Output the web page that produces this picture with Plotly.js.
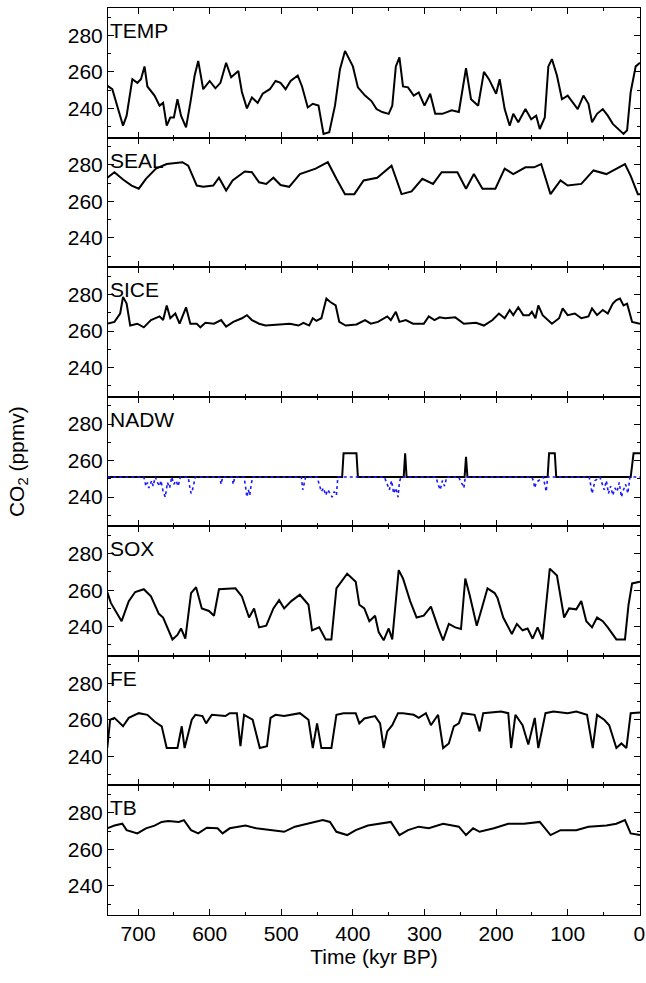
<!DOCTYPE html>
<html>
<head>
<meta charset="utf-8">
<script src="https://cdn.plot.ly/plotly-3.0.1.min.js"></script>
<style>body{margin:0;background:#fff}</style>
</head>
<body>
<div id="plot" style="width:646px;height:983px"></div>
<script>
// === Data (time in kyr BP, CO2 in ppmv) === //
var panelNames = ['TEMP','SEAL','SICE','NADW','SOX','FE','TB'];

var tempT = [743,736,721,716,708,701,696,691,687,677,670,665,660,655,650,645,640,633,627,621,616,609,600,592,585,577,570,560,555,548,541,533,526,516,508,501,494,487,477,471,463,456,448,441,433,425,418,411,400,393,383,374,367,359,350,345,340,335,330,323,315,308,300,292,285,275,262,252,242,235,225,217,210,200,195,188,181,176,169,159,151,144,139,132,127,122,115,108,100,93,86,78,71,66,59,51,44,37,27,22,17,12,5,-1];
var tempV = [252.4,250.5,230.5,236,256,254,256,263,252,247,241.5,243,230.5,235,235,245,236,229.6,243,258,266,250.5,255,251,254,265,257,260.5,249,240,246,243,248,250.5,255,254,250.5,255,258,252,240.5,242.5,241.5,226,227,241.5,261.5,271.5,263,251.5,247,244,239.6,238,237,241.5,263,268,252,251.5,247,248.7,241.5,248,237,237,239,238,262,245,241.5,260,256,248,256,239.6,230.5,237,232.4,239.6,234,236,228.7,235,263,267,258,245,247,243,239.6,247,242.5,232.4,237,239.6,236,231.5,228,226,228,249,263,265];

var sealT = [743,733,721,709,699,689,675,660,638,630,618,609,595,587,577,568,551,541,531,521,511,501,489,474,452,435,423,411,398,385,366,346,332,318,303,288,276,254,242,231,219,201,188,176,159,147,137,124,110,100,81,64,46,20,12,2,-1];
var sealV = [273,276,272,268.7,267,272.4,278,280.5,281.5,279.6,268.7,268,268.7,273,266,271.5,276.4,276,270.5,269.6,273,269,268,275,278,281.5,272.4,264,264,271.5,273,279.6,264,265.5,272.4,269.6,276,276,267,275,267,267,278,275,278.7,278.7,280.5,264,271.5,268.7,269.6,277,275,280.5,274,264,264];

var siceT = [743,733,725,721,716,711,701,692,682,675,670,665,660,655,648,642,633,627,618,613,606,594,584,577,567,555,548,541,531,522,502,488,476,469,461,456,451,444,437,432,424,419,410,395,383,375,365,352,347,340,335,326,316,301,294,286,279,271,257,245,228,217,205,196,188,181,176,169,162,154,150,145,141,135,122,112,107,100,90,81,71,66,59,51,44,37,32,27,22,17,10,2,-1];
var siceV = [264,265,269.6,278.7,275,263,264,262,266,267,268,266,274,267,269.6,264,273,264,264,262,264.5,264,266,262.4,265,267,268.7,266,264,263,263.6,264,263,264.5,263,267,265.6,267,277.8,276,274,265,263,263.6,266,264,265,268,266,270.5,265,266,264,264,268,266,267.5,267,267.5,264,264.5,263,266,269.6,267,271.5,268.7,273,268.7,268.7,270.5,267,274,268.7,264,267,272.4,268.7,269.6,267,268,272.4,268.7,271.5,269.6,275,277,277.8,274,275,265,264,264];

var nadwT = [743,415,413,395,393,329,327,325,244,242,240,128,126,118,116,12,8,-1];
var nadwV = [251,251,264,264,251,251,264,251,251,262,251,251,264,264,251,251,264,264];

// alternative NADW run (blue dotted)
var nadw2T = [743,692,689,687,685,683,681,679,676,673,670,668,665,662,659,656,653,650,647,644,641,638,630,628,626,624,622,620,600,586,584,582,569,567,565,552,550,548,546,544,542,540,480,472,470,468,466,450,447,444,441,438,435,432,429,426,423,421,360,356,352,349,346,343,340,337,335,333,290,284,281,278,275,272,269,266,252,249,247,245,243,150,148,146,144,134,132,130,128,70,68,66,64,62,55,52,49,46,43,40,37,34,31,28,25,22,19,16,13,-1];
var nadw2V = [251,251,246,248,245,247,249,246,251,248,246,249,243,240,248,245,251,247,249,246,251,251,251,246,242,244,248,251,251,251,247,251,251,247,251,251,246,240,244,241,247,251,251,251,244,247,251,251,247,243,245,241,244,242,240,243,241,251,251,251,247,244,249,242,245,240,248,251,251,251,247,244,249,246,251,251,251,248,247,245,251,251,249,245,248,251,246,243,251,251,247,242,245,249,251,247,244,249,242,246,241,245,243,248,240,244,247,242,251,251];

var soxT = [743,738,723,713,704,692,682,671,665,657,652,645,640,634,626,619,611,601,594,587,574,564,555,545,538,531,521,511,503,496,486,474,462,457,447,438,430,423,408,396,391,384,377,369,364,357,350,345,336,330,320,311,301,291,281,274,266,257,249,243,237,227,220,212,202,198,190,185,178,171,163,156,149,142,135,125,115,105,98,88,81,74,66,59,51,44,37,32,20,15,10,2,-1];
var soxV = [259,253,243,254,259,260.5,256.6,247,245,238,233,235.5,239,233.4,258.4,261.6,250,248.6,246,260.5,261,261,256.6,245,250,239.6,240.5,250,254.5,250,254,257.5,252,238,239.6,233,233,261,269,264.6,252,250,243,246,237,232.5,239,233,271,266.4,254,245,246,251,239.6,232.5,241.5,239.6,238.7,266.4,257.5,240.5,250,261,258.4,255.7,245,241.5,236,241.5,238,239,233.4,239.6,233,271.8,268,245,250,249.5,254,243,239.6,245,243,239.6,236,233,233,252,263.7,264.6,264.6];

var feT = [743,739,733,721,713,699,687,677,667,660,645,639,635,630,625,620,610,605,597,578,572,562,557,552,540,530,520,515,508,496,474,462,456,450,444,430,423,413,396,391,384,369,362,357,352,345,337,330,315,308,298,291,281,274,266,259,252,247,230,223,218,193,183,179,173,163,155,146,141,131,120,100,88,73,65,59,49,42,32,25,18,12,2,-1];
var feV = [244.5,260,261,256.4,261,263.6,262.7,259,256.4,244.5,244.5,256.4,244.5,252,260,262.7,262,258,262.7,262,263.6,263.6,245.5,262.7,260,244.5,245.5,261,262.7,262,263.6,260,244.5,258,244.5,244.5,262.7,263.6,263.6,258,260.7,262,258,244.5,253.6,257,263.6,263.6,262.7,261,263.6,257,262.7,244.5,247,256.4,258,263.6,262.7,253.6,263.6,264.5,263.6,244.5,262.7,257,246.4,261,244.5,263.6,264.5,263.6,264.5,262.7,244.5,262.7,260,257,244.5,247,244.5,263.6,264,264];

var tbT = [743,733,722,716,701,689,677,667,658,643,636,626,616,604,589,582,572,550,535,516,496,481,462,442,432,423,408,396,379,360,347,335,323,308,294,274,252,242,232,223,203,183,161,139,124,110,88,71,46,32,20,12,2,-1];
var tbV = [271.5,273,274,270.5,268.7,271.5,273,275,275.5,275,276,270.5,268.7,271.8,271.5,268.7,271.5,273,271.5,270.5,269.6,272.4,274,276,275,269.6,267.8,270.5,273,274,275,267.8,270.5,272.4,271.5,274,272.4,267.8,271.5,269.6,271.5,274,274,275,267.8,270.5,270.5,272.4,273,274,276,268.7,267.8,267.8];

var xTicks = [700,600,500,400,300,200,100,0];
var yTicks = [240,260,280];

// === Build panels === //
var series = [[tempT,tempV],[sealT,sealV],[siceT,siceV],[nadwT,nadwV],[soxT,soxV],[feT,feV],[tbT,tbV]];
var n = panelNames.length;
var gap = 1/n;
var data = [];
var layout = {
    width:646, height:983,
    margin:{l:108,r:6,t:8,b:68},
    showlegend:false,
    paper_bgcolor:'white', plot_bgcolor:'white',
    font:{family:'Liberation Sans, Arial, sans-serif', size:21, color:'black'},
    annotations:[]
};

for(var i=0;i<n;i++){
    var sx = i===0 ? '' : String(i+1);
    var lo = 1 - (i+1)*gap, hi = 1 - i*gap;
    data.push({x:series[i][0], y:series[i][1], xaxis:'x'+sx, yaxis:'y'+sx,
        type:'scatter', mode:'lines', line:{color:'black', width:2}});
    if(i===3){
        data.push({x:nadw2T, y:nadw2V, xaxis:'x'+sx, yaxis:'y'+sx,
            type:'scatter', mode:'lines', line:{color:'#1a1aff', width:1.6, dash:'dot'}});
    }
    layout['xaxis'+sx] = {
        domain:[0,1], anchor:'y'+sx, range:[742,-1],
        tickvals:xTicks, ticks:'inside', ticklen:6, tickcolor:'black',
        minor:{dtick:50, tick0:0, ticks:'inside', ticklen:3, tickcolor:'black'},
        showticklabels:(i===n-1), showgrid:false, zeroline:false,
        showline:true, linecolor:'black', linewidth:1, mirror:'allticks',
        tickfont:{size:21}
    };
    if(i>0) layout['xaxis'+sx].matches = 'x';
    layout['yaxis'+sx] = {
        domain:[lo,hi], anchor:'x'+sx, range:[224,295],
        tickvals:yTicks, ticks:'inside', ticklen:6, tickcolor:'black',
        minor:{dtick:10, tick0:0, ticks:'inside', ticklen:3, tickcolor:'black'},
        showgrid:false, zeroline:false,
        showline:true, linecolor:'black', linewidth:1, mirror:'allticks',
        tickfont:{size:21}
    };
    layout.annotations.push({text:panelNames[i], xref:'paper', yref:'paper',
        x:0.0, y:hi - 0.01, xanchor:'left', yanchor:'top', showarrow:false,
        font:{size:21, color:'black'}});
}
layout.xaxis7.title = {text:'Time (kyr BP)', font:{size:21}, standoff:2};
layout.annotations.push({text:'CO<sub>2</sub> (ppmv)', xref:'paper', yref:'paper',
    x:-0.17, y:0.5, xanchor:'center', yanchor:'middle', textangle:-90, showarrow:false,
    font:{size:21, color:'black'}});

Plotly.newPlot('plot', data, layout, {displayModeBar:false, staticPlot:true});
</script>
</body>
</html>
